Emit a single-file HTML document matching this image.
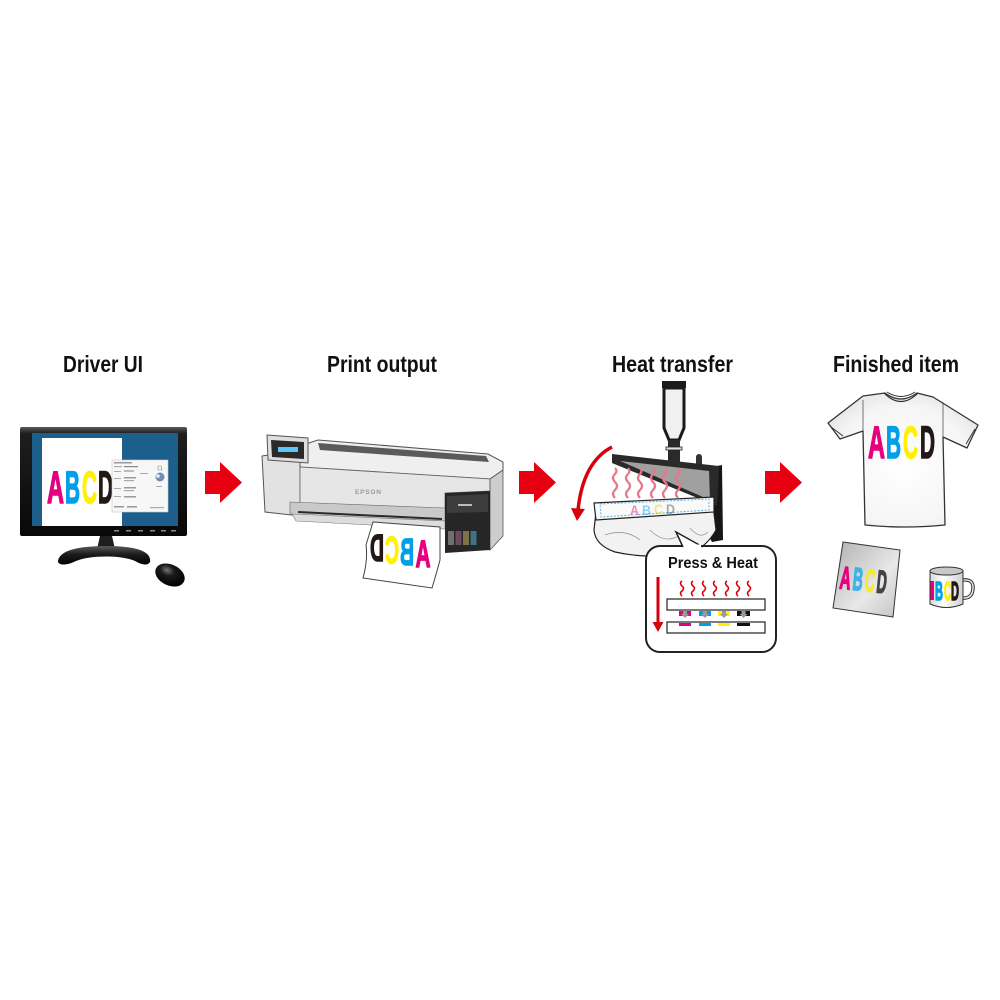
<!DOCTYPE html>
<html><head><meta charset="utf-8"><style>
html,body{margin:0;padding:0;background:#fff;}
svg{display:block;}
text{font-family:"Liberation Sans",Arial,sans-serif;font-weight:bold;}
.th{stroke-width:1.5;stroke-linejoin:round;}
</style></head><body>
<svg width="1000" height="1000" viewBox="0 0 1000 1000" xmlns="http://www.w3.org/2000/svg">
<defs>
<linearGradient id="bez" x1="0" y1="0" x2="0" y2="1"><stop offset="0" stop-color="#5a5a5a"/><stop offset="0.06" stop-color="#1e1e1e"/><stop offset="1" stop-color="#080808"/></linearGradient>
<linearGradient id="base" x1="0" y1="0" x2="0" y2="1"><stop offset="0" stop-color="#5a5a5a"/><stop offset="0.45" stop-color="#1c1c1c"/><stop offset="1" stop-color="#000"/></linearGradient>
<radialGradient id="mouse" cx="0.35" cy="0.35" r="0.7"><stop offset="0" stop-color="#777"/><stop offset="0.35" stop-color="#1a1a1a"/><stop offset="1" stop-color="#000"/></radialGradient>
<linearGradient id="poster" x1="0" y1="0" x2="1" y2="1"><stop offset="0" stop-color="#b0b0b0"/><stop offset="0.6" stop-color="#e8e8e8"/><stop offset="1" stop-color="#c4c4c4"/></linearGradient>
<radialGradient id="shirt" cx="0.5" cy="0.55" r="0.65"><stop offset="0" stop-color="#fff"/><stop offset="0.7" stop-color="#f5f5f5"/><stop offset="1" stop-color="#e0e0e0"/></radialGradient>
<linearGradient id="mug" x1="0" y1="0" x2="1" y2="0"><stop offset="0" stop-color="#d8d8d8"/><stop offset="0.4" stop-color="#fff"/><stop offset="1" stop-color="#d0d0d0"/></linearGradient>
</defs>

<!-- Titles -->
<text x="63" y="372" font-size="23" textLength="80" lengthAdjust="spacingAndGlyphs" fill="#111">Driver UI</text>
<text x="327" y="372" font-size="23" textLength="110" lengthAdjust="spacingAndGlyphs" fill="#111">Print output</text>
<text x="612" y="372" font-size="23" textLength="121" lengthAdjust="spacingAndGlyphs" fill="#111">Heat transfer</text>
<text x="833" y="372" font-size="23" textLength="126" lengthAdjust="spacingAndGlyphs" fill="#111">Finished item</text>

<!-- Arrows -->
<polygon points="205,471 220,471 220,462 242,482.5 220,503 220,494 205,494" fill="#e60012"/>
<polygon points="519,471 534,471 534,462 556,482.5 534,503 534,494 519,494" fill="#e60012"/>
<polygon points="765,471 780,471 780,462 802,482.5 780,503 780,494 765,494" fill="#e60012"/>

<!-- ===== Monitor ===== -->
<rect x="20" y="427" width="167" height="109" rx="2" fill="url(#bez)"/>
<rect x="32" y="433" width="146" height="93" fill="#1d5f8c"/>
<rect x="42" y="438" width="80" height="88" fill="#fff"/>
<text class="th" x="47" y="503" font-size="45" textLength="17" lengthAdjust="spacingAndGlyphs" fill="#e4007f" stroke="#e4007f">A</text>
<text class="th" x="65" y="503" font-size="45" textLength="15" lengthAdjust="spacingAndGlyphs" fill="#00a0e9" stroke="#00a0e9">B</text>
<text class="th" x="82" y="503" font-size="45" textLength="15" lengthAdjust="spacingAndGlyphs" fill="#fff100" stroke="#fff100">C</text>
<text class="th" x="98" y="503" font-size="45" textLength="15" lengthAdjust="spacingAndGlyphs" fill="#231815" stroke="#231815">D</text>
<!-- dialog -->
<rect x="112" y="460" width="56" height="52" fill="#f7f7f7" stroke="#c8c8c8" stroke-width="0.6"/>
<rect x="114" y="462" width="18" height="1.5" fill="#9a9a9a"/>
<rect x="114" y="466" width="8" height="1.2" fill="#aaa"/><rect x="124" y="466" width="14" height="1.2" fill="#888"/>
<rect x="114" y="471" width="7" height="1" fill="#aaa"/><rect x="124" y="470" width="10" height="2" fill="#bbb"/>
<rect x="114" y="478" width="7" height="1" fill="#aaa"/><rect x="124" y="477" width="12" height="1.5" fill="#999"/><rect x="124" y="480" width="10" height="1.2" fill="#aaa"/>
<rect x="140" y="473" width="8" height="1" fill="#aaa"/>
<rect x="114" y="488" width="7" height="1" fill="#aaa"/><rect x="124" y="487" width="12" height="1.5" fill="#999"/><rect x="124" y="490" width="10" height="1.2" fill="#aaa"/>
<rect x="114" y="496" width="7" height="1" fill="#aaa"/><rect x="124" y="496" width="12" height="1.5" fill="#999"/>
<rect x="114" y="506" width="10" height="1.5" fill="#999"/><rect x="127" y="506" width="10" height="1.5" fill="#999"/><rect x="150" y="507" width="14" height="1.2" fill="#aaa"/>
<circle cx="160" cy="477" r="4.5" fill="#6d8fb7"/><circle cx="158" cy="476" r="1.8" fill="#eef"/>
<path d="M158,466 l3,0 l1,4 l-4,0 z" fill="none" stroke="#888" stroke-width="0.6"/>
<rect x="156" y="486" width="6" height="1" fill="#aaa"/>
<!-- buttons -->
<g fill="#8a8a8a"><rect x="114" y="530" width="5" height="1.5"/><rect x="126" y="530" width="5" height="1.5"/><rect x="138" y="530" width="5" height="1.5"/><rect x="150" y="530" width="5" height="1.5"/><rect x="161" y="530" width="5" height="1.5"/><rect x="171" y="530" width="5" height="1.5"/></g>
<!-- stand -->
<polygon points="100,536 112,536 115,549 97,549" fill="#1e1e1e"/>
<path d="M58,562 C58,550 80,546 106,546 C132,546 152,550 150,562 C148,566 142,565 135,561 C122,555 90,555 76,561 C68,565 60,566 58,562 Z" fill="url(#base)"/>
<ellipse cx="170" cy="575" rx="15.5" ry="10.5" transform="rotate(25 170 575)" fill="url(#mouse)"/>

<!-- ===== Printer ===== -->
<polygon points="262,456 300,450 300,516 265,512" fill="#e2e2e2" stroke="#555" stroke-width="1"/>
<polygon points="300,446 318,440 488,454 503,462 503,470 490,479 300,467" fill="#efefef" stroke="#555" stroke-width="1"/>
<polygon points="318,443 486,456 489,462 320,450" fill="#5a5a5a"/>
<polygon points="300,467 490,479 490,491 445,493 445,512 300,504" fill="#e6e6e6" stroke="#666" stroke-width="0.8"/>
<text x="355" y="494" font-size="6.5" fill="#9a9a9a" font-weight="normal" letter-spacing="0.8">EPSON</text>
<polygon points="290,502 445,508 445,521 290,514" fill="#c9c9c9" stroke="#666" stroke-width="0.6"/>
<line x1="298" y1="512" x2="442" y2="519" stroke="#2a2a2a" stroke-width="2"/>
<polygon points="292,514 445,521 445,529 296,521" fill="#dcdcdc" stroke="#777" stroke-width="0.6"/>
<polygon points="490,479 503,470 503,536 490,550" fill="#cdcdcd" stroke="#555" stroke-width="0.8"/>
<polygon points="445,493 490,491 490,550 445,553" fill="#262626"/>
<polygon points="447,496 488,494 488,512 447,513" fill="#3c3c3c"/>
<rect x="458" y="504" width="14" height="2" fill="#bbb"/>
<rect x="448" y="531" width="6" height="14" fill="#707070"/>
<rect x="455.5" y="531" width="6" height="14" fill="#6e4a60"/>
<rect x="463" y="531" width="6" height="14" fill="#7d7444"/>
<rect x="470.5" y="531" width="6" height="14" fill="#3f7286"/>
<polygon points="267,435 308,438 308,463 268,460" fill="#dedede" stroke="#555" stroke-width="1"/>
<polygon points="271,440 304,442 304,459 272,457" fill="#2a2a2a"/>
<rect x="278" y="447" width="20" height="5" fill="#5bc6f2"/>
<!-- paper -->
<path d="M373,522 L440,527 L440,560 Q436,575 432,588 L363,578 Q368,560 366,545 Z" fill="#fff" stroke="#444" stroke-width="1"/>
<text class="th" transform="translate(377,561) scale(-1,1)" text-anchor="middle" font-size="38" textLength="14" lengthAdjust="spacingAndGlyphs" fill="#231815" stroke="#231815">D</text>
<text class="th" transform="translate(392,563) scale(-1,1)" text-anchor="middle" font-size="38" textLength="14" lengthAdjust="spacingAndGlyphs" fill="#fff100" stroke="#fff100">C</text>
<text class="th" transform="translate(407,565) scale(-1,1)" text-anchor="middle" font-size="38" textLength="14" lengthAdjust="spacingAndGlyphs" fill="#00a0e9" stroke="#00a0e9">B</text>
<text class="th" transform="translate(423,567) scale(-1,1)" text-anchor="middle" font-size="38" textLength="15" lengthAdjust="spacingAndGlyphs" fill="#e4007f" stroke="#e4007f">A</text>

<!-- ===== Heat press ===== -->
<polygon points="698,470 722,465 723,540 712,542 700,520" fill="#161616"/>
<rect x="662" y="381" width="24" height="7" fill="#1a1a1a"/>
<path d="M664,388 L684,388 L684,428 L679,440 L669,440 L664,428 Z" fill="#f0f0f0" stroke="#1a1a1a" stroke-width="3"/>
<rect x="668" y="440" width="12" height="32" fill="#2a2a2a"/>
<rect x="666" y="447" width="16" height="3" fill="#ddd" stroke="#222" stroke-width="0.8"/>
<polygon points="668,468 682,468 706,488 698,494" fill="#222"/>
<rect x="696" y="457" width="6" height="10" fill="#333"/><circle cx="699" cy="457" r="3" fill="#333"/>
<polygon points="612,454 719,466 717,506 612,463" fill="#2a2a2a"/>
<polygon points="620,461 709,471 710,500" fill="#a0a0a0"/>
<path d="M596,512 L713,505 L716,530 Q706,548 690,552 Q650,560 615,552 Q595,545 594,530 Z" fill="#f2f2f2" stroke="#222" stroke-width="1.2"/>
<path d="M605,535 Q625,528 640,540 M650,530 Q665,545 680,535 M690,528 Q700,540 708,532" fill="none" stroke="#999" stroke-width="0.8"/>
<polygon points="594,503 714,497 714,512 596,520" fill="#fafafa" stroke="#222" stroke-width="1.2"/>
<polygon points="600,504 709,499 709,510 601,517" fill="none" stroke="#5fb2de" stroke-width="1" stroke-dasharray="2 1.5"/>
<g opacity="0.45" font-size="14">
<text x="630" y="515" textLength="9" lengthAdjust="spacingAndGlyphs" fill="#e4007f">A</text>
<text x="642" y="515" textLength="9" lengthAdjust="spacingAndGlyphs" fill="#00a0e9">B</text>
<text x="654" y="514" textLength="9" lengthAdjust="spacingAndGlyphs" fill="#e0d000">C</text>
<text x="666" y="514" textLength="9" lengthAdjust="spacingAndGlyphs" fill="#444">D</text>
</g>
<g fill="none" stroke="#e5788a" stroke-width="2.2">
<path d="M615,498 q-4,-4 0,-8 q4,-4 0,-8 q-4,-4 0,-8 q3,-3 0,-6"/>
<path d="M628,498 q-4,-4 0,-8 q4,-4 0,-8 q-4,-4 0,-8 q3,-3 0,-6"/>
<path d="M640,498 q-4,-4 0,-8 q4,-4 0,-8 q-4,-4 0,-8 q3,-3 0,-6"/>
<path d="M653,498 q-4,-4 0,-8 q4,-4 0,-8 q-4,-4 0,-8 q3,-3 0,-6"/>
<path d="M665,498 q-4,-4 0,-8 q4,-4 0,-8 q-4,-4 0,-8 q3,-3 0,-6"/>
<path d="M678,498 q-4,-4 0,-8 q4,-4 0,-8 q-4,-4 0,-8 q3,-3 0,-6"/>
</g>
<path d="M612,447 Q583,462 578,510" fill="none" stroke="#d9000d" stroke-width="3.5"/>
<polygon points="571,508 585,509 577,521" fill="#d9000d"/>

<!-- callout -->
<rect x="646" y="546" width="130" height="106" rx="14" fill="#fff" stroke="#222" stroke-width="2"/>
<path d="M683,547 L676,532 L703,547" fill="#fff" stroke="#222" stroke-width="1.5"/>
<line x1="684.5" y1="546" x2="701" y2="546" stroke="#fff" stroke-width="3"/>
<text x="668" y="568" font-size="16" textLength="90" lengthAdjust="spacingAndGlyphs" fill="#111">Press &amp; Heat</text>
<line x1="658" y1="577" x2="658" y2="624" stroke="#d9000d" stroke-width="3"/>
<polygon points="652.5,622 663.5,622 658,632" fill="#d9000d"/>
<g fill="none" stroke="#d9000d" stroke-width="1.6">
<path d="M682,596 q-3,-3 0,-5 q3,-3 0,-5 q-3,-3 0,-5"/>
<path d="M693,596 q-3,-3 0,-5 q3,-3 0,-5 q-3,-3 0,-5"/>
<path d="M704,596 q-3,-3 0,-5 q3,-3 0,-5 q-3,-3 0,-5"/>
<path d="M715,596 q-3,-3 0,-5 q3,-3 0,-5 q-3,-3 0,-5"/>
<path d="M727,596 q-3,-3 0,-5 q3,-3 0,-5 q-3,-3 0,-5"/>
<path d="M738,596 q-3,-3 0,-5 q3,-3 0,-5 q-3,-3 0,-5"/>
<path d="M749,596 q-3,-3 0,-5 q3,-3 0,-5 q-3,-3 0,-5"/>
</g>
<rect x="667" y="599" width="98" height="11" fill="#fff" stroke="#222" stroke-width="1.2"/>
<rect x="679" y="611" width="12" height="5" fill="#e4007f"/>
<rect x="699" y="611" width="12" height="5" fill="#00a0e9"/>
<rect x="718" y="611" width="12" height="5" fill="#fff100"/>
<rect x="737" y="611" width="13" height="5" fill="#111"/>
<g fill="#999"><polygon points="683,611 687,611 687,614 689,614 685,618 681,614 683,614"/><polygon points="703,611 707,611 707,614 709,614 705,618 701,614 703,614"/><polygon points="722,611 726,611 726,614 728,614 724,618 720,614 722,614"/><polygon points="741.5,611 745.5,611 745.5,614 747.5,614 743.5,618 739.5,614 741.5,614"/></g>
<rect x="667" y="622" width="98" height="11" fill="#fff" stroke="#222" stroke-width="1.2"/>
<rect x="679" y="623" width="12" height="3" fill="#e4007f"/>
<rect x="699" y="623" width="12" height="3" fill="#00a0e9"/>
<rect x="718" y="623" width="12" height="3" fill="#fff100"/>
<rect x="737" y="623" width="13" height="3" fill="#111"/>

<!-- ===== T-shirt ===== -->
<path d="M885,393 L863,396 L828,423 L840,439 L863,431 L865,525 Q905,529 945,525 L943,437 L967,448 L978,425 L933,397 L917,393 Q901,405 885,393 Z" fill="url(#shirt)" stroke="#333" stroke-width="1.3" stroke-linejoin="round"/>
<path d="M831,427 L843,436 M975,429 L966,444" stroke="#333" stroke-width="1"/>
<path d="M863,400 L863,431 M943,402 L943,437" stroke="#555" stroke-width="0.8"/>
<path d="M884,393 Q901,410 918,393" fill="none" stroke="#333" stroke-width="1.2"/>
<path d="M887,392 Q901,401 915,392" fill="none" stroke="#333" stroke-width="1"/>
<text class="th" x="868" y="458" font-size="45" textLength="17" lengthAdjust="spacingAndGlyphs" fill="#e4007f" stroke="#e4007f">A</text>
<text class="th" x="886" y="458" font-size="45" textLength="15" lengthAdjust="spacingAndGlyphs" fill="#00a0e9" stroke="#00a0e9">B</text>
<text class="th" x="903" y="458" font-size="45" textLength="15" lengthAdjust="spacingAndGlyphs" fill="#fff100" stroke="#fff100">C</text>
<text class="th" x="920" y="458" font-size="45" textLength="15" lengthAdjust="spacingAndGlyphs" fill="#231815" stroke="#231815">D</text>

<!-- poster -->
<polygon points="843,542 900,550 893,617 833,608" fill="url(#poster)" stroke="#333" stroke-width="1"/>
<g transform="rotate(6 865 580)">
<text class="th" x="840" y="591" font-size="32" textLength="11" lengthAdjust="spacingAndGlyphs" fill="#e4007f" stroke="#e4007f" stroke-width="1">A</text>
<text class="th" x="853" y="591" font-size="32" textLength="10" lengthAdjust="spacingAndGlyphs" fill="#3fb0ea" stroke="#3fb0ea" stroke-width="1">B</text>
<text class="th" x="865" y="591" font-size="32" textLength="10" lengthAdjust="spacingAndGlyphs" fill="#f5ea30" stroke="#f5ea30" stroke-width="1">C</text>
<text class="th" x="877" y="591" font-size="32" textLength="10" lengthAdjust="spacingAndGlyphs" fill="#444" stroke="#444" stroke-width="1">D</text>
</g>

<!-- mug -->
<path d="M963,580 Q974,579 973,589 Q972,599 962,598" fill="none" stroke="#333" stroke-width="3.5"/>
<path d="M963,580 Q974,579 973,589 Q972,599 962,598" fill="none" stroke="#eee" stroke-width="1.4"/>
<path d="M930,571 L930,604 Q946.5,611 963,604 L963,571 Z" fill="url(#mug)" stroke="#333" stroke-width="1"/>
<ellipse cx="946.5" cy="571" rx="16.5" ry="4" fill="#c8c8c8" stroke="#333" stroke-width="1"/>
<rect x="930.5" y="581" width="3.5" height="19" fill="#e4007f"/>
<text class="th" x="935" y="600" font-size="26" textLength="8" lengthAdjust="spacingAndGlyphs" fill="#00a0e9" stroke="#00a0e9" stroke-width="1">B</text>
<text class="th" x="944" y="600" font-size="26" textLength="7" lengthAdjust="spacingAndGlyphs" fill="#fff100" stroke="#fff100" stroke-width="1">C</text>
<text class="th" x="951" y="600" font-size="26" textLength="8" lengthAdjust="spacingAndGlyphs" fill="#231815" stroke="#231815" stroke-width="1">D</text>
</svg>
</body></html>
